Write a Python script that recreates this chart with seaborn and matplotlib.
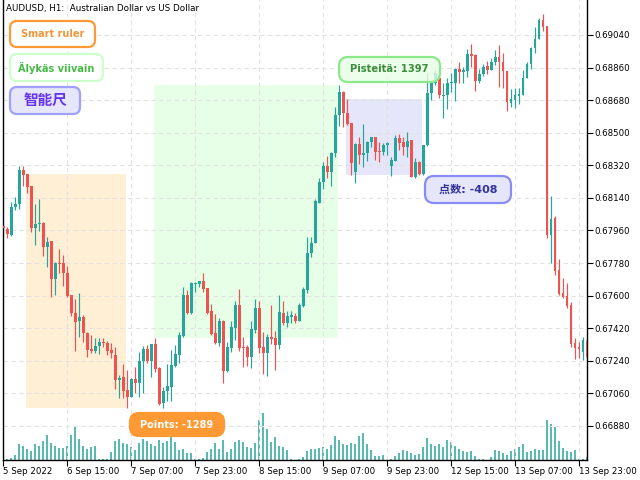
import numpy as np
import pandas as pd
import matplotlib
matplotlib.use('Agg')
import matplotlib.pyplot as plt
import matplotlib.colors as mcolors
from matplotlib.patches import Rectangle, FancyBboxPatch
from matplotlib.transforms import IdentityTransform
import seaborn as sns

# AUDUSD H1 candles (bar 0 = 5 Sep 23:00)
opens = [0.67985, 0.67968, 0.67935, 0.68090, 0.68106, 0.68294, 0.68272, 0.68205, 0.67974, 0.67996,
         0.68001, 0.67869, 0.67902, 0.67692, 0.67780, 0.67780, 0.67725, 0.67603, 0.67504, 0.67460,
         0.67482, 0.67394, 0.67305, 0.67294, 0.67322, 0.67344, 0.67338, 0.67300, 0.67272, 0.67134,
         0.67150, 0.67079, 0.67040, 0.67139, 0.67117, 0.67239, 0.67305, 0.67239, 0.67333, 0.67200,
         0.67007, 0.67073, 0.67095, 0.67211, 0.67272, 0.67377, 0.67603, 0.67504, 0.67664, 0.67664,
         0.67681, 0.67642, 0.67515, 0.67394, 0.67338, 0.67460, 0.67184, 0.67311, 0.67421, 0.67548,
         0.67316, 0.67316, 0.67261, 0.67410, 0.67532, 0.67316, 0.67283, 0.67371, 0.67366, 0.67327,
         0.67504, 0.67449, 0.67482, 0.67487, 0.67460, 0.67543, 0.67631, 0.67835, 0.67891, 0.68112,
         0.68228, 0.68316, 0.68283, 0.68388, 0.68598, 0.68725, 0.68609, 0.68554, 0.68283, 0.68438,
         0.68377, 0.68388, 0.68449, 0.68476, 0.68399, 0.68393, 0.68432, 0.68316, 0.68344, 0.68471,
         0.68449, 0.68421, 0.68460, 0.68255, 0.68338, 0.68272, 0.68432, 0.68719, 0.68774, 0.68802,
         0.68703, 0.68708, 0.68774, 0.68774, 0.68852, 0.68835, 0.68841, 0.68935, 0.68929, 0.68786,
         0.68824, 0.68868, 0.68846, 0.68890, 0.68918, 0.68890, 0.68841, 0.68664, 0.68681, 0.68703,
         0.68708, 0.68802, 0.68879, 0.68968, 0.69018, 0.69122, 0.69089, 0.67935, 0.68029, 0.67742,
         0.67614, 0.67598, 0.67548, 0.67338, 0.67316, 0.67289, 0.67349]
highs = [0.67990, 0.67979, 0.68117, 0.68145, 0.68316, 0.68316, 0.68272, 0.68205, 0.68106, 0.68134,
         0.68007, 0.67924, 0.67902, 0.67786, 0.67858, 0.67824, 0.67764, 0.67603, 0.67581, 0.67614,
         0.67493, 0.67399, 0.67382, 0.67366, 0.67366, 0.67366, 0.67349, 0.67338, 0.67316, 0.67162,
         0.67222, 0.67189, 0.67145, 0.67206, 0.67289, 0.67322, 0.67327, 0.67333, 0.67366, 0.67206,
         0.67095, 0.67222, 0.67300, 0.67327, 0.67399, 0.67648, 0.67631, 0.67675, 0.67675, 0.67681,
         0.67725, 0.67642, 0.67554, 0.67498, 0.67476, 0.67465, 0.67344, 0.67460, 0.67570, 0.67637,
         0.67371, 0.67327, 0.67460, 0.67581, 0.67570, 0.67399, 0.67388, 0.67548, 0.67405, 0.67603,
         0.67570, 0.67515, 0.67515, 0.67504, 0.67559, 0.67648, 0.67924, 0.67924, 0.68134, 0.68250,
         0.68338, 0.68371, 0.68393, 0.68642, 0.68763, 0.68730, 0.68686, 0.68554, 0.68443, 0.68476,
         0.68548, 0.68454, 0.68476, 0.68476, 0.68449, 0.68443, 0.68449, 0.68366, 0.68487, 0.68493,
         0.68476, 0.68504, 0.68460, 0.68360, 0.68344, 0.68432, 0.68830, 0.68791, 0.68846, 0.68808,
         0.68774, 0.68802, 0.68830, 0.68857, 0.68890, 0.68863, 0.68962, 0.68990, 0.68935, 0.68852,
         0.68879, 0.68896, 0.68913, 0.68957, 0.68984, 0.68940, 0.68841, 0.68741, 0.68747, 0.68747,
         0.68846, 0.68890, 0.68973, 0.69084, 0.69134, 0.69156, 0.69089, 0.68150, 0.68040, 0.67802,
         0.67697, 0.67670, 0.67565, 0.67366, 0.67344, 0.67371, 0.67366]
lows = [0.67968, 0.67918, 0.67929, 0.68073, 0.68078, 0.68205, 0.68167, 0.67951, 0.67880, 0.67957,
        0.67819, 0.67758, 0.67592, 0.67603, 0.67725, 0.67653, 0.67592, 0.67487, 0.67294, 0.67371,
        0.67344, 0.67261, 0.67283, 0.67283, 0.67278, 0.67316, 0.67272, 0.67255, 0.67084, 0.67034,
        0.67034, 0.66979, 0.67040, 0.67062, 0.67040, 0.67062, 0.67228, 0.67150, 0.67178, 0.66996,
        0.66979, 0.67018, 0.67018, 0.67206, 0.67228, 0.67371, 0.67498, 0.67498, 0.67620, 0.67648,
        0.67620, 0.67498, 0.67382, 0.67333, 0.67322, 0.67117, 0.67178, 0.67289, 0.67355, 0.67294,
        0.67206, 0.67211, 0.67200, 0.67394, 0.67283, 0.67167, 0.67156, 0.67333, 0.67189, 0.67305,
        0.67438, 0.67427, 0.67449, 0.67449, 0.67460, 0.67537, 0.67614, 0.67813, 0.67891, 0.68112,
        0.68189, 0.68250, 0.68205, 0.68366, 0.68537, 0.68531, 0.68543, 0.68266, 0.68222, 0.68327,
        0.68310, 0.68344, 0.68421, 0.68349, 0.68338, 0.68377, 0.68377, 0.68261, 0.68344, 0.68404,
        0.68377, 0.68366, 0.68255, 0.68250, 0.68266, 0.68266, 0.68427, 0.68681, 0.68763, 0.68692,
        0.68581, 0.68631, 0.68725, 0.68675, 0.68774, 0.68774, 0.68808, 0.68863, 0.68730, 0.68774,
        0.68813, 0.68824, 0.68846, 0.68874, 0.68752, 0.68747, 0.68620, 0.68642, 0.68636, 0.68659,
        0.68708, 0.68802, 0.68852, 0.68940, 0.69018, 0.69062, 0.67918, 0.67780, 0.67714, 0.67603,
        0.67587, 0.67532, 0.67316, 0.67250, 0.67255, 0.67244, 0.67239]
closes = [0.67974, 0.67940, 0.68090, 0.68106, 0.68294, 0.68266, 0.68200, 0.67974, 0.67996, 0.68001,
          0.67869, 0.67896, 0.67692, 0.67780, 0.67775, 0.67725, 0.67598, 0.67504, 0.67454, 0.67482,
          0.67394, 0.67300, 0.67294, 0.67322, 0.67344, 0.67338, 0.67294, 0.67283, 0.67134, 0.67145,
          0.67073, 0.67040, 0.67139, 0.67117, 0.67239, 0.67305, 0.67239, 0.67333, 0.67195, 0.67001,
          0.67073, 0.67101, 0.67217, 0.67278, 0.67382, 0.67603, 0.67504, 0.67670, 0.67670, 0.67681,
          0.67637, 0.67504, 0.67388, 0.67338, 0.67460, 0.67184, 0.67316, 0.67427, 0.67548, 0.67311,
          0.67311, 0.67261, 0.67416, 0.67532, 0.67311, 0.67283, 0.67371, 0.67360, 0.67327, 0.67510,
          0.67449, 0.67487, 0.67493, 0.67460, 0.67548, 0.67637, 0.67835, 0.67891, 0.68123, 0.68228,
          0.68316, 0.68283, 0.68388, 0.68598, 0.68725, 0.68609, 0.68548, 0.68333, 0.68438, 0.68377,
          0.68388, 0.68449, 0.68476, 0.68393, 0.68393, 0.68432, 0.68443, 0.68349, 0.68471, 0.68443,
          0.68421, 0.68454, 0.68255, 0.68338, 0.68272, 0.68432, 0.68719, 0.68774, 0.68830, 0.68708,
          0.68708, 0.68774, 0.68780, 0.68852, 0.68835, 0.68846, 0.68935, 0.68924, 0.68786, 0.68824,
          0.68863, 0.68846, 0.68890, 0.68918, 0.68890, 0.68841, 0.68670, 0.68686, 0.68708, 0.68714,
          0.68802, 0.68879, 0.68968, 0.69018, 0.69122, 0.69084, 0.67935, 0.68023, 0.67736, 0.67609,
          0.67592, 0.67543, 0.67333, 0.67311, 0.67305, 0.67355, 0.67261]
# tick volumes (relative)
volume = [2, 4, 7, 15, 45, 41, 33, 25, 45, 42, 55, 72, 49, 42, 34, 35, 41, 72, 96, 61,
          42, 32, 37, 42, 4, 2, 3, 22, 54, 60, 50, 47, 39, 29, 49, 60, 54, 47, 40, 57,
          49, 54, 85, 51, 30, 32, 19, 19, 4, 2, 7, 22, 32, 49, 32, 57, 24, 32, 51, 57,
          51, 37, 35, 49, 115, 135, 90, 51, 67, 42, 39, 29, 2, 1, 4, 9, 27, 32, 31, 35,
          37, 32, 44, 69, 57, 47, 44, 49, 47, 71, 79, 47, 30, 12, 11, 15, 1, 3, 11, 19,
          29, 25, 19, 15, 17, 37, 65, 47, 42, 47, 37, 59, 51, 42, 31, 25, 23, 25, 12, 2,
          2, 1, 9, 29, 26, 21, 15, 25, 32, 39, 45, 22, 26, 31, 29, 29, 117, 104, 97, 55,
          34, 27, 23, 29, 3, 3, 8]

tick_bars = [0, 16, 32, 48, 64, 80, 96, 112, 128, 144]
tick_labels = ['5 Sep 2022', '6 Sep 15:00', '7 Sep 07:00', '7 Sep 23:00', '8 Sep 15:00',
               '9 Sep 07:00', '9 Sep 23:00', '12 Sep 15:00', '13 Sep 07:00', '13 Sep 23:00']
price_ticks = [0.69040, 0.68860, 0.68680, 0.68500, 0.68320, 0.68140, 0.67960,
               0.67780, 0.67600, 0.67420, 0.67240, 0.67060, 0.66880]

GREEN = '#26a69a'
RED = '#ef5350'
W, H = 640, 480

sns.set_theme(style='white')
plt.rcParams['font.family'] = ['DejaVu Sans', 'Noto Sans CJK SC']

df = pd.DataFrame({'open': opens, 'high': highs, 'low': lows, 'close': closes})
df['bar'] = np.arange(len(df))
vol = pd.DataFrame({'bar': np.arange(len(volume)), 'volume': volume})

fig = plt.figure(figsize=(6.4, 4.8), dpi=100)
fig.patch.set_facecolor('white')
pos = [3 / W, 20 / H, 584 / W, 460 / H]

# volume in its own axes underneath the price axes
axv = fig.add_axes(pos)
axv.vlines(vol['bar'], 0, vol['volume'], colors=GREEN, linewidth=1.1)
axv.set_ylim(0, 1335)
axv.axis('off')

ax = fig.add_axes(pos, sharex=axv)
ax.patch.set_alpha(0)

up = df['close'] >= df['open']
colors = np.where(up, GREEN, RED)
ax.vlines(df['bar'], df['low'], df['high'], colors=colors, linewidth=0.85, zorder=2)
body = np.maximum((df['close'] - df['open']).abs(), 0.00003)
ax.bar(df['bar'], body, bottom=np.minimum(df['open'], df['close']), width=0.72,
       color=colors, linewidth=0, zorder=3)


# ruler rectangles: from one bar's price to another's
def ruler(start, end, top, bottom, color):
    ax.add_patch(Rectangle((start - 0.35, bottom), end - start, top - bottom,
                           facecolor=color, edgecolor='none', zorder=0.2))


ruler(6, 31, highs[6], lows[31], '#ffefd5')
ruler(38, 84, highs[84], highs[38], '#e6ffe6')
ruler(86, 105, highs[86], lows[105], '#e6e6fa')

ax.set_xlim(-0.1, 146.0)
ax.set_ylim(0.66692, 0.69233)
ax.set_axisbelow(True)
ax.grid(True, color='#e2e2e2', linestyle=(0, (4, 3)), linewidth=0.8)

ax.yaxis.tick_right()
ax.set_yticks(price_ticks)
ax.set_yticklabels([f'{v:.5f}' for v in price_ticks])
ax.set_xticks(tick_bars)
ax.set_xticklabels(tick_labels, ha='left')
ax.tick_params(axis='both', labelsize=6.2, length=4, width=0.8, color='black',
               direction='out', pad=1, labelcolor='black')
ax.tick_params(axis='x', bottom=True)
ax.tick_params(axis='y', right=True, left=False)
for side in ['left', 'bottom', 'right']:
    ax.spines[side].set_visible(True)
    ax.spines[side].set_color('black')
    ax.spines[side].set_linewidth(1)
ax.spines['top'].set_visible(False)

fig.text(6 / W, 1 - 9 / H, 'AUDUSD, H1:  Australian Dollar vs US Dollar',
         fontsize=6.3, color='black', ha='left', va='center')


def px_label(x0, y0, x1, y1, text, fc, ec, tc, size, lw=1.6, rad=7, alpha=1.0):
    box = FancyBboxPatch((x0, H - y1), x1 - x0, y1 - y0,
                         boxstyle=f'round,pad=0,rounding_size={rad}',
                         transform=IdentityTransform(),
                         facecolor=mcolors.to_rgba(fc, alpha), edgecolor=ec,
                         linewidth=lw, zorder=5)
    fig.add_artist(box)
    fig.text((x0 + x1) / 2 / W, 1 - (y0 + y1) / 2 / H, text, fontsize=size,
             fontweight='bold', color=tc, ha='center', va='center', zorder=6)


px_label(10, 21, 95, 47, 'Smart ruler', 'white', '#ff9933', '#f0963c', 7)
px_label(10, 54, 103, 81, 'Älykäs viivain', 'white', '#ccffcc', '#44bb44', 7)
px_label(10, 87, 80, 114, '智能尺', '#e6e6ff', '#a0a0ff', '#6633ee', 10.5)

px_label(130, 413, 224, 436, 'Points: -1289', '#ff9933', '#ff9933', 'white', 7, rad=9)
px_label(339, 57, 440, 82, 'Pisteitä: 1397', '#e6ffe6', '#8be98b', '#3c8c3c', 7.2,
         alpha=0.8, rad=9)
px_label(425, 176, 511, 203, '点数: -408', '#e6e6fa', '#8b8bf5', '#333399', 8, rad=9)

fig.savefig('out.png', dpi=100)
